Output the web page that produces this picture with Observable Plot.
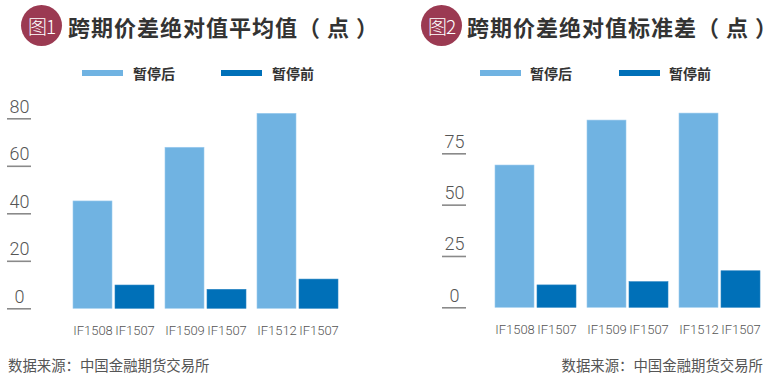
<!DOCTYPE html>
<html><head><meta charset="utf-8">
<script src="https://cdn.jsdelivr.net/npm/d3@7"></script>
<script src="https://cdn.jsdelivr.net/npm/@observablehq/plot@0.6"></script>
<style>
body{margin:0;background:#fff;font-family:"Noto Sans CJK SC","Noto Sans",sans-serif;}
#root{position:relative;width:773px;height:381px;overflow:hidden;}
.badge{position:absolute;width:41px;height:41px;border-radius:50%;background:#9b3a52;color:#fff;font-size:19px;font-weight:300;line-height:41px;text-align:center;letter-spacing:-1px;}
.title{position:absolute;font-size:22px;font-weight:700;color:#333;line-height:30px;white-space:nowrap;letter-spacing:1px;}
.sw{position:absolute;height:6px;}
.lt{position:absolute;font-size:14px;font-weight:700;color:#333;line-height:16px;}
.src{position:absolute;font-size:14.4px;color:#555;line-height:16px;white-space:nowrap;}
.panel{position:absolute;top:90px;}
</style></head>
<body><div id="root"></div>
<script>
const pairs = ["IF1508 IF1507", "IF1509 IF1507", "IF1512 IF1507"];
const nearLabels = ["IF1508", "IF1509", "IF1512"];
const farLabel = "IF1507";
const series = ["暂停后", "暂停前"];
const meanAfter = [45.2, 67.8, 82.1];
const meanBefore = [9.8, 8.0, 12.3];
const sdAfter = [69.3, 91.2, 94.6];
const sdBefore = [10.9, 12.5, 17.8];
const meanTicks = [0, 20, 40, 60, 80];
const sdTicks = [0, 25, 50, 75];
const titles = ["跨期价差绝对值平均值（ 点 ）", "跨期价差绝对值标准差（ 点 ）"];
const badges = ["图1", "图2"];
const source = "数据来源：中国金融期货交易所";
const colors = ["#70b3e2", "#0070b8"];

const root = document.getElementById("root");
function el(cls, css, text) {
  const d = document.createElement("div");
  d.className = cls; d.style.cssText = css; if (text) d.textContent = text;
  root.appendChild(d); return d;
}
function rows(after, before) {
  const r = [];
  pairs.forEach((p, i) => {
    r.push({pair: p, s: series[0], v: after[i], label: nearLabels[i]});
    r.push({pair: p, s: series[1], v: before[i], label: farLabel});
  });
  return r;
}
function panel(data, ticks, yMax, opts) {
  return Plot.plot({
    width: opts.width, height: 250,
    marginLeft: opts.ml, marginRight: opts.mr, marginTop: opts.mt, marginBottom: opts.mb,
    fx: {domain: pairs, paddingInner: 0.108, paddingOuter: 0, axis: null, label: null},
    x: {domain: series, paddingInner: 0.07, paddingOuter: 0, axis: null, label: null},
    y: {domain: [0, yMax], axis: null, label: null},
    color: {domain: series, range: colors},
    style: {fontFamily: "Roboto, 'Liberation Sans', sans-serif", overflow: "visible"},
    marks: [
      Plot.barY(data, {fx: "pair", x: "s", y: "v", fill: "s", stroke: d => d.s === series[0] ? "#9ccbef" : "#2a86c4", strokeWidth: 0.6}),
      Plot.text(data, {fx: "pair", x: "s", y: 0, text: "label", dy: 22, fill: "#555", fontSize: 13, fontWeight: 300}),
      Plot.axisY(ticks, {tickSize: 24, dx: opts.tickDx, stroke: "#8a8a8a", strokeWidth: 1.6, text: null, label: null, facetAnchor: "left"}),
      Plot.axisY(ticks, {tickSize: 0, tickPadding: 0, dx: opts.labelDx, dy: -12, textAnchor: "middle", fontSize: 18, fontWeight: 300, fill: "#555", tickFormat: d => String(d), label: null, facetAnchor: "left"})
    ]
  });
}

// headers
[[21, 68, 82, 133, 221, 272], [421, 467, 480, 530, 619, 669]].forEach((p, i) => {
  el("badge", `left:${p[0]}px;top:5px;`, badges[i]);
  el("title", `left:${p[1]}px;top:11px;`, titles[i]);
  el("sw", `left:${p[2]}px;top:70px;width:41px;background:${colors[0]};`);
  el("lt", `left:${p[3]}px;top:65px;`, series[0]);
  el("sw", `left:${p[4]}px;top:70px;width:41px;background:${colors[1]};`);
  el("lt", `left:${p[5]}px;top:65px;`, series[1]);
});

const left = panel(rows(meanAfter, meanBefore), meanTicks, 90,
  {width: 385, ml: 73, mr: 45, mt: 4.55, mb: 31.7, tickDx: -42, labelDx: -54});
const lw = el("panel", "left:0px;"); lw.appendChild(left);
const right = panel(rows(sdAfter, sdBefore), sdTicks, 100,
  {width: 383, ml: 105, mr: 11, mt: 12, mb: 32.7, tickDx: -29, labelDx: -41});
const rw = el("panel", "left:390px;"); rw.appendChild(right);

el("src", "left:8px;top:357px;", source);
el("src", "right:10px;top:357px;", source);
</script></body></html>
